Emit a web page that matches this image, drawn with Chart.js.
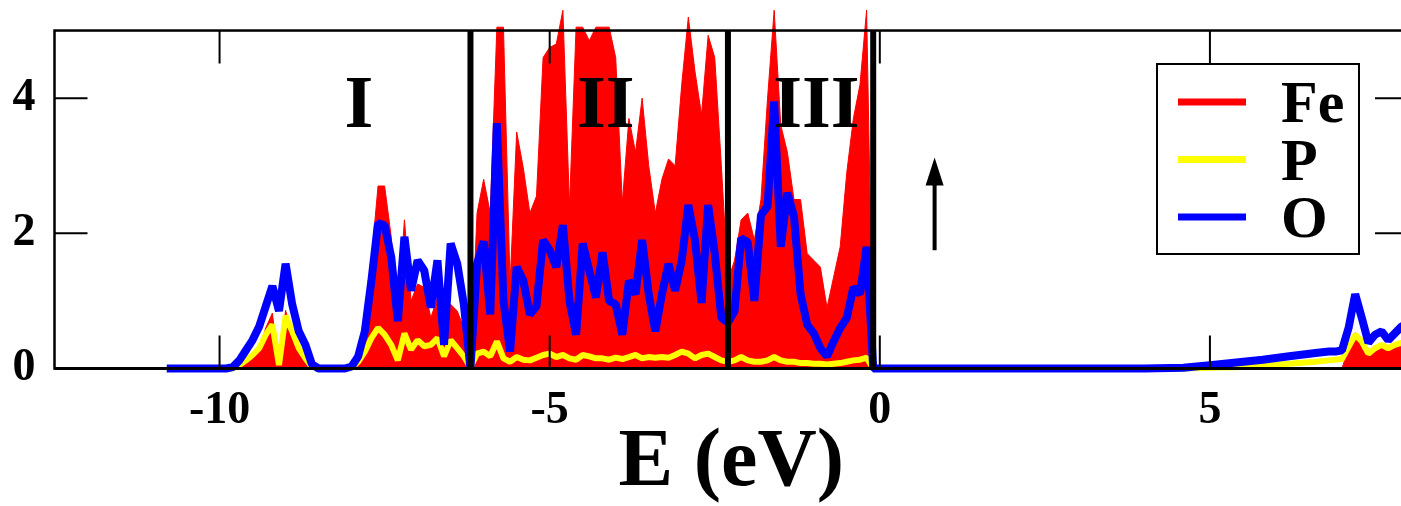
<!DOCTYPE html>
<html>
<head>
<meta charset="utf-8">
<script src="https://cdn.jsdelivr.net/npm/chart.js@4.4.1/dist/chart.umd.min.js"></script>
<style>
  html, body { margin: 0; padding: 0; background: #fff; overflow: hidden; }
  #wrap { width: 1408px; height: 506px; }
</style>
</head>
<body>
<div id="wrap"><canvas id="dos"></canvas></div>
<script>
// energy grid (eV), shared by the three projected DOS curves
const energies = [
  -10.8, -10.4, -10.0, -9.9,
  -9.8, -9.7, -9.6, -9.5, -9.4, -9.3, -9.2, -9.1, -9.0, -8.9,
  -8.8, -8.7, -8.6, -8.5, -8.4, -8.3, -8.2, -8.1, -8.0, -7.9,
  -7.8, -7.7, -7.6, -7.5, -7.4, -7.3, -7.2, -7.1, -7.0, -6.9,
  -6.8, -6.7, -6.6, -6.5, -6.4, -6.3, -6.2, -6.1, -6.0, -5.9,
  -5.8, -5.7, -5.6, -5.5, -5.4, -5.3, -5.2, -5.1, -5.0, -4.9,
  -4.8, -4.7, -4.6, -4.5, -4.4, -4.3, -4.2, -4.1, -4.0, -3.9,
  -3.8, -3.7, -3.6, -3.5, -3.4, -3.3, -3.2, -3.1, -3.0, -2.9,
  -2.8, -2.7, -2.6, -2.5, -2.4, -2.3, -2.2, -2.1, -2.0, -1.9,
  -1.8, -1.7, -1.6, -1.5, -1.4, -1.3, -1.2, -1.1, -1.0, -0.9,
  -0.8, -0.7, -0.6, -0.5, -0.4, -0.3, -0.2, -0.1,
  0.0, 1.0, 2.0, 3.0, 4.0, 4.6, 5.0, 5.4, 5.8, 6.2, 6.6,
  6.8, 6.9, 7.0, 7.1, 7.2, 7.3, 7.4, 7.5, 7.6, 7.7, 7.8, 7.9, 8.0
];

const feDos = [
  0, 0, 0, 0,
  0, 0.03, 0.08, 0.14, 0.3, 0.6, 0.82, 0.0, 0.86, 0.5,
  0.3, 0.15, 0.02, 0, 0, 0, 0, 0, 0, 0.05,
  0.45, 1.6, 2.7, 2.7, 1.95, 0.75, 2.2, 1.0, 1.25, 1.2,
  0.75, 1.05, 0.35, 0.95, 0.85, 0.6, 0, 2.3, 2.8, 2.3,
  5.05, 5.05, 1.25, 3.5, 2.97, 2.3, 2.55, 4.6, 4.75, 4.8,
  5.3, 2.4, 5.05, 5.05, 4.85, 5.05, 5.05, 5.05, 4.6, 2.45,
  3.7, 3.2, 4.0, 3.0, 2.3, 2.8, 3.1, 3.0, 4.2, 5.2,
  4.4, 3.75, 4.93, 4.6, 3.0, 1.3, 1.6, 2.2, 2.3, 1.9,
  2.5, 4.0, 5.3, 3.6, 3.2, 2.5, 2.5, 1.7, 1.6, 1.5,
  0.9, 1.35, 1.8, 2.9, 3.7, 4.2, 5.3, 0,
  0, 0, 0, 0, 0, 0, 0, 0, 0, 0, 0,
  0, 0, 0, 0.3, 0.53, 0.3, 0.18, 0.3, 0.35, 0.3, 0.32, 0.38, 0.4
];

const pDos = [
  0, 0, 0, 0,
  0, 0.05, 0.12, 0.2, 0.3, 0.5, 0.65, 0.05, 0.78, 0.55,
  0.3, 0.15, 0.02, 0, 0, 0, 0, 0, 0.01, 0.1,
  0.25, 0.45, 0.6, 0.5, 0.35, 0.12, 0.52, 0.28, 0.42, 0.33,
  0.35, 0.45, 0.18, 0.42, 0.3, 0.18, 0.02, 0.22, 0.25, 0.18,
  0.4, 0.15, 0.1, 0.17, 0.13, 0.12, 0.16, 0.2, 0.22, 0.17,
  0.2, 0.15, 0.13, 0.2, 0.18, 0.15, 0.15, 0.13, 0.16, 0.14,
  0.17, 0.2, 0.15, 0.17, 0.16, 0.17, 0.16, 0.2, 0.25, 0.22,
  0.15, 0.2, 0.22, 0.17, 0.12, 0.1, 0.12, 0.17, 0.12, 0.1,
  0.1, 0.12, 0.17, 0.12, 0.1, 0.1, 0.08, 0.08, 0.07, 0.07,
  0.06, 0.07, 0.08, 0.1, 0.12, 0.13, 0.16, 0,
  0, 0, 0, 0, 0, 0, 0.01, 0.02, 0.04, 0.07, 0.1,
  0.12, 0.13, 0.14, 0.32, 0.5, 0.4, 0.22, 0.3, 0.35, 0.3, 0.35, 0.38, 0.4
];

const oDos = [
  0, 0, 0, 0,
  0.02, 0.12, 0.27, 0.42, 0.62, 0.92, 1.22, 0.85, 1.55, 0.95,
  0.55, 0.35, 0.06, 0, 0, 0, 0, 0, 0.03, 0.18,
  0.55, 1.3, 2.15, 2.12, 1.65, 0.7, 1.95, 1.15, 1.6, 1.45,
  0.9, 1.6, 0.35, 1.85, 1.55, 0.95, 0, 1.55, 1.88, 0.8,
  3.63, 1.0, 0.25, 1.5, 1.3, 0.8, 0.92, 1.9, 1.75, 1.5,
  2.12, 1.0, 0.5, 1.85, 1.45, 1.05, 1.72, 1.0, 0.95, 0.5,
  1.3, 1.1, 1.9, 1.1, 0.55, 1.1, 1.55, 1.15, 1.6, 2.42,
  1.9, 0.97, 2.42, 1.7, 0.75, 0.68, 0.85, 1.93, 1.87, 1.0,
  2.27, 2.4, 3.95, 1.8, 2.6, 2.25, 1.1, 0.65, 0.52, 0.3,
  0.18, 0.4, 0.6, 0.75, 1.2, 1.1, 1.8, 0,
  0, 0, 0, 0, 0, 0.01, 0.05, 0.09, 0.13, 0.18, 0.23,
  0.25, 0.25, 0.27, 0.6, 1.1, 0.75, 0.38, 0.5, 0.55, 0.42, 0.52, 0.62, 0.68
];

const seriesLabels = ['Fe', 'P', 'O'];
const xTickValues = [-10, -5, 0, 5];
const yTickValues = [0, 2, 4];
const frameTop = 5;   // the box is drawn up to 5; Fe spikes poke above it
const regionBounds = [-6.2, -2.3, -0.1];
const regionNames = ['I', 'II', 'III'];

const SERIF = '"Liberation Serif", "Times New Roman", serif';

function toPoints(values) {
    return energies.map((e, i) => ({ x: e, y: values[i] }));
}

// frame, inward ticks, region separators, labels, spin arrow and legend box
const decorPlugin = {
    id: 'decor',
    afterDatasetsDraw(chart) {
        const ctx = chart.ctx;
        const area = chart.chartArea;
        const xs = chart.scales.x;
        const ys = chart.scales.y;
        const top = ys.getPixelForValue(frameTop);
        const bottom = ys.getPixelForValue(0);
        ctx.save();
        ctx.strokeStyle = '#000';
        ctx.fillStyle = '#000';

        // region separators
        ctx.lineWidth = 6;
        regionBounds.forEach((e) => {
            const px = xs.getPixelForValue(e);
            ctx.beginPath();
            ctx.moveTo(px, top);
            ctx.lineTo(px, bottom);
            ctx.stroke();
        });

        // inward ticks
        ctx.lineWidth = 2;
        xTickValues.forEach((v) => {
            const px = xs.getPixelForValue(v);
            ctx.beginPath();
            ctx.moveTo(px, bottom);
            ctx.lineTo(px, bottom - 33);
            ctx.moveTo(px, top);
            ctx.lineTo(px, top + 33);
            ctx.stroke();
        });
        yTickValues.forEach((v) => {
            const py = ys.getPixelForValue(v);
            ctx.beginPath();
            ctx.moveTo(area.left, py);
            ctx.lineTo(area.left + 33, py);
            ctx.moveTo(area.right, py);
            ctx.lineTo(area.right - 33, py);
            ctx.stroke();
        });

        // frame
        ctx.lineWidth = 2.5;
        ctx.strokeRect(area.left, top, area.right - area.left, bottom - top);
        ctx.lineWidth = 3;
        ctx.beginPath();
        ctx.moveTo(area.left, bottom);
        ctx.lineTo(area.right, bottom);
        ctx.stroke();

        // region names
        ctx.font = 'bold 74px ' + SERIF;
        ctx.textAlign = 'center';
        ctx.textBaseline = 'alphabetic';
        const labelX = [-7.89, -4.15, -0.96];
        regionNames.forEach((name, i) => {
            ctx.fillText(name, xs.getPixelForValue(labelX[i]), ys.getPixelForValue(3.575));
        });

        // spin-up arrow
        const ax = xs.getPixelForValue(0.83);
        const aBottom = ys.getPixelForValue(1.75);
        const aTip = ys.getPixelForValue(3.12);
        ctx.lineWidth = 4;
        ctx.beginPath();
        ctx.moveTo(ax, aBottom);
        ctx.lineTo(ax, aTip + 20);
        ctx.stroke();
        ctx.beginPath();
        ctx.moveTo(ax, aTip);
        ctx.lineTo(ax - 9, aTip + 28);
        ctx.lineTo(ax + 9, aTip + 28);
        ctx.closePath();
        ctx.fill();

        // legend
        const bx = 1157, by = 64, bw = 202, bh = 190;
        ctx.fillStyle = '#fff';
        ctx.fillRect(bx, by, bw, bh);
        ctx.lineWidth = 2;
        ctx.strokeRect(bx, by, bw, bh);
        ctx.font = 'bold 60px ' + SERIF;
        ctx.textAlign = 'left';
        chart.data.datasets.forEach((ds, i) => {
            const cy = 102 + i * 57.5;
            ctx.strokeStyle = ds.borderColor;
            ctx.lineWidth = 7;
            ctx.beginPath();
            ctx.moveTo(1178, cy);
            ctx.lineTo(1246, cy);
            ctx.stroke();
            ctx.fillStyle = '#000';
            ctx.fillText(ds.label, 1281, cy + 20);
        });
        ctx.restore();
    }
};

const dataClip = { left: 0, top: 0, right: 0, bottom: 6 };

new Chart(document.getElementById('dos'), {
    type: 'line',
    data: {
        datasets: [{
            label: seriesLabels[0],
            data: toPoints(feDos),
            borderColor: '#ff0000',
            backgroundColor: '#ff0000',
            borderWidth: 1,
            fill: 'origin',
            pointRadius: 0,
            order: 3,
            clip: dataClip
        }, {
            label: seriesLabels[1],
            data: toPoints(pDos),
            borderColor: '#ffff00',
            borderWidth: 6,
            borderJoinStyle: 'bevel',
            fill: false,
            pointRadius: 0,
            order: 2,
            clip: dataClip
        }, {
            label: seriesLabels[2],
            data: toPoints(oDos),
            borderColor: '#0000ff',
            borderWidth: 8,
            borderJoinStyle: 'bevel',
            fill: false,
            pointRadius: 0,
            order: 1,
            clip: dataClip
        }]
    },
    options: {
        responsive: true,
        maintainAspectRatio: false,
        animation: false,
        layout: { padding: { top: 3.5, right: 0, bottom: 0, left: 0 } },
        plugins: {
            legend: { display: false },
            tooltip: { enabled: false }
        },
        scales: {
            x: {
                type: 'linear',
                min: -12.5,
                max: 8,
                afterBuildTicks: (s) => { s.ticks = xTickValues.map((v) => ({ value: v })); },
                afterFit: (s) => { s.height = 137.5; s.paddingLeft = 0; s.paddingRight = 0; },
                grid: { display: false },
                border: { display: false },
                ticks: {
                    color: '#000',
                    padding: 7,
                    maxRotation: 0,
                    autoSkip: false,
                    font: { family: SERIF, weight: 'bold', size: 46 }
                },
                title: {
                    display: true,
                    text: 'E (eV)',
                    color: '#000',
                    padding: { top: 0, bottom: 1 },
                    font: { family: SERIF, weight: 'bold', size: 82, lineHeight: 1 }
                }
            },
            y: {
                min: 0,
                max: 5.4,
                afterBuildTicks: (s) => { s.ticks = yTickValues.map((v) => ({ value: v })); },
                afterFit: (s) => { s.width = 54.5; s.paddingTop = 0; s.paddingBottom = 0; },
                grid: { display: false },
                border: { display: false },
                ticks: {
                    color: '#000',
                    padding: 11,
                    font: { family: SERIF, weight: 'bold', size: 46 }
                }
            }
        }
    },
    plugins: [decorPlugin]
});
</script>
</body>
</html>
